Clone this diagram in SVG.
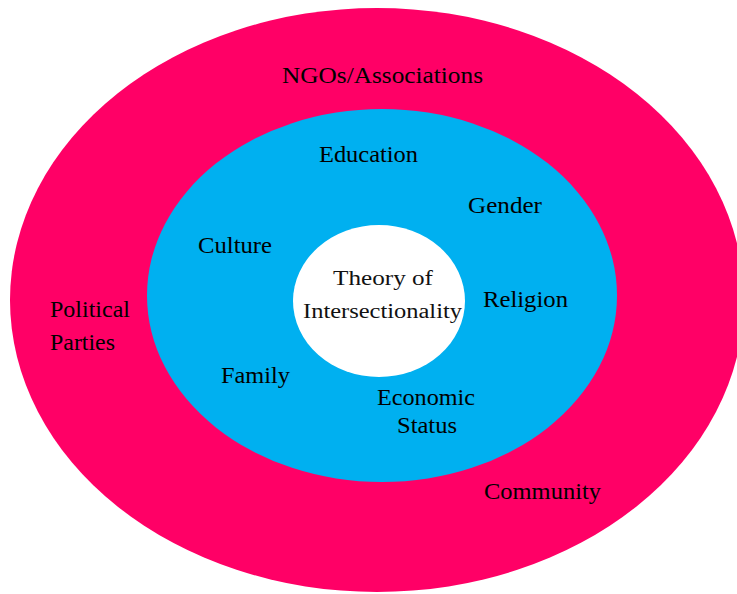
<svg xmlns="http://www.w3.org/2000/svg" width="737" height="594" viewBox="0 0 737 594">
  <style>
    .lbl { font-family: "Liberation Serif", "Times New Roman", serif; font-size: 23px; fill: #000; }
    .core { font-family: "Liberation Serif", "Times New Roman", serif; font-size: 20px; fill: #111; }
  </style>
  <rect width="737" height="594" fill="#ffffff"/>

  <!-- outer ring: social institutions -->
  <g id="outer-ring">
    <ellipse cx="377" cy="300" rx="367" ry="292" fill="#FF0066"/>
    <text class="lbl" x="282" y="83" textLength="201" lengthAdjust="spacingAndGlyphs">NGOs/Associations</text>
    <text class="lbl" x="50" y="317" textLength="80" lengthAdjust="spacingAndGlyphs">Political</text>
    <text class="lbl" x="50" y="350" textLength="65" lengthAdjust="spacingAndGlyphs">Parties</text>
    <text class="lbl" x="484" y="499" textLength="117" lengthAdjust="spacingAndGlyphs">Community</text>
  </g>

  <!-- middle ring: identity factors -->
  <g id="middle-ring">
    <ellipse cx="382" cy="295.5" rx="235" ry="186.5" fill="#00B0F0"/>
    <text class="lbl" x="319" y="162" textLength="99" lengthAdjust="spacingAndGlyphs">Education</text>
    <text class="lbl" x="468" y="213" textLength="74" lengthAdjust="spacingAndGlyphs">Gender</text>
    <text class="lbl" x="198" y="253" textLength="74" lengthAdjust="spacingAndGlyphs">Culture</text>
    <text class="lbl" x="483" y="307" textLength="85" lengthAdjust="spacingAndGlyphs">Religion</text>
    <text class="lbl" x="221" y="383" textLength="69" lengthAdjust="spacingAndGlyphs">Family</text>
    <text class="lbl" x="377" y="405" textLength="98" lengthAdjust="spacingAndGlyphs">Economic</text>
    <text class="lbl" x="397" y="433" textLength="60" lengthAdjust="spacingAndGlyphs">Status</text>
  </g>

  <!-- core -->
  <g id="core">
    <ellipse cx="379" cy="301" rx="86" ry="76" fill="#ffffff"/>
    <text class="core" x="333" y="285" textLength="100" lengthAdjust="spacingAndGlyphs">Theory of</text>
    <text class="core" x="303" y="318" textLength="159" lengthAdjust="spacingAndGlyphs">Intersectionality</text>
  </g>

  <g id="connectors"/>
</svg>
